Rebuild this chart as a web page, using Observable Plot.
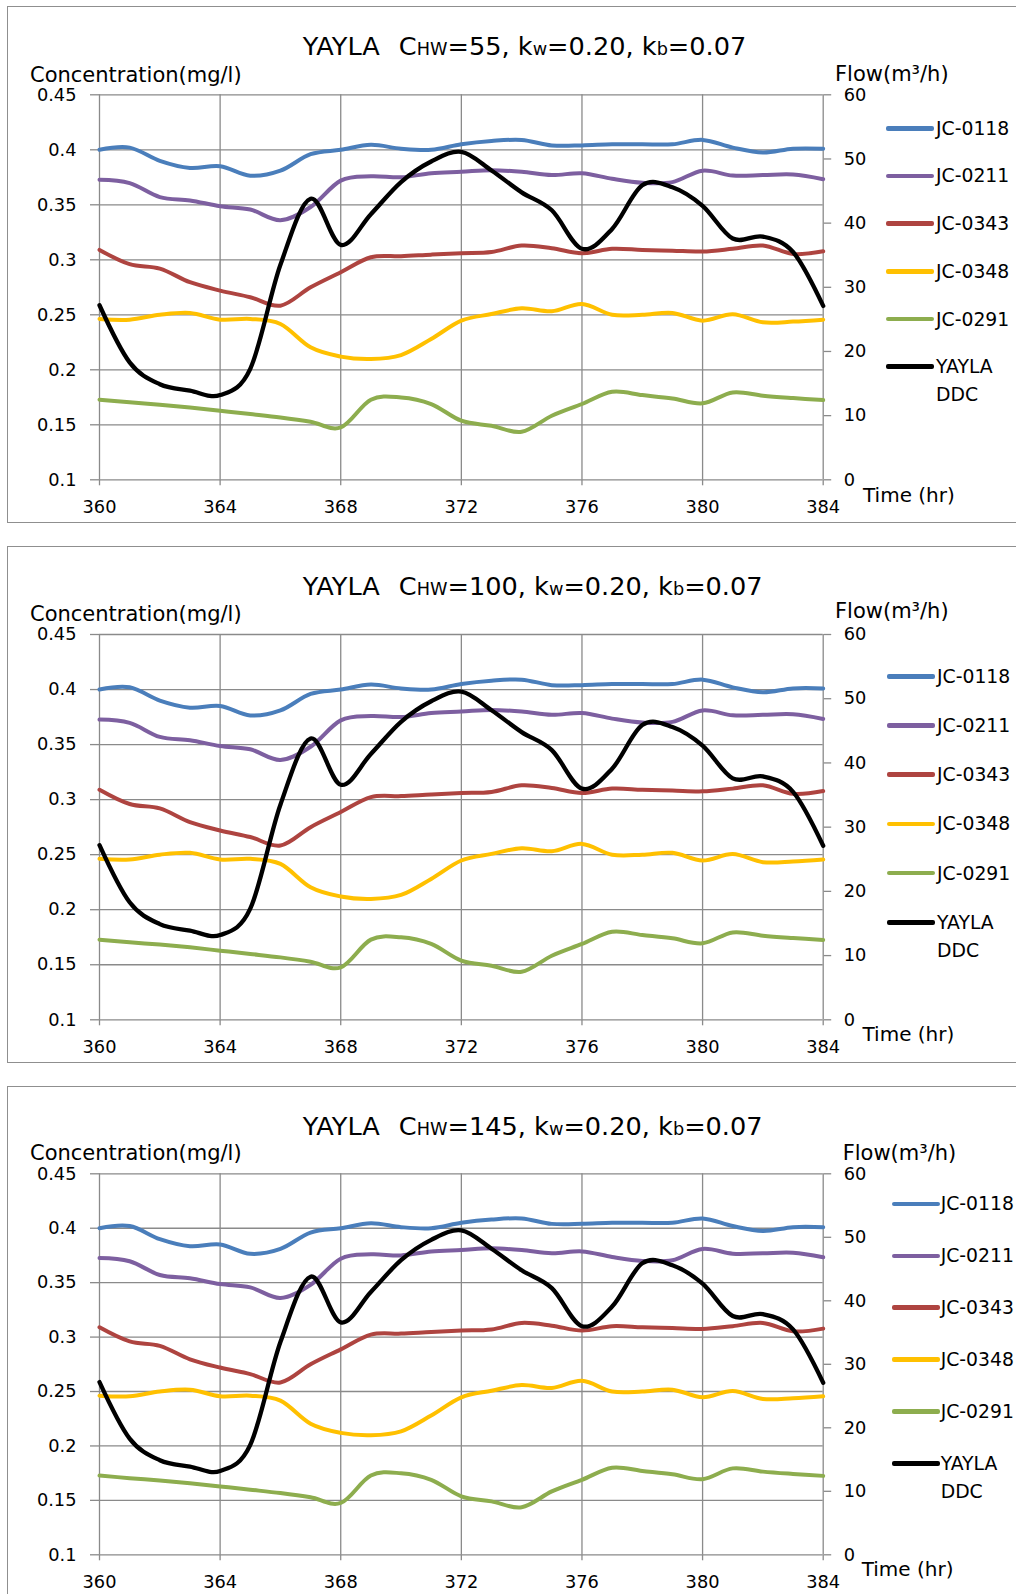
<!DOCTYPE html>
<html><head><meta charset="utf-8">
<script src="https://cdn.jsdelivr.net/npm/d3@7"></script>
<script src="https://cdn.jsdelivr.net/npm/@observablehq/plot@0.6"></script>
<style>
html,body{margin:0;padding:0;background:#fff;}
#page{position:relative;width:1016px;height:1594px;overflow:hidden;font-family:"DejaVu Sans",sans-serif;color:#000;}
.panel{position:absolute;left:0;width:1016px;height:520px;}
.border{position:absolute;left:7.3px;top:0;width:1030px;height:517.3px;border:1.5px solid #8f8f8f;box-sizing:border-box;}
.txt{position:absolute;white-space:nowrap;color:#000;}
.sw{position:absolute;width:48px;height:4.7px;border-radius:2px;}
svg{position:absolute;left:0;top:0;}
</style></head><body><div id="page"></div>
<script>
// ---- data ----
const hours = [360,361,362,363,364,365,366,367,368,369,370,371,372,373,374,375,376,377,378,379,380,381,382,383,384];
const jc0118 = [0.400,0.402,0.390,0.3835,0.385,0.3765,0.381,0.396,0.400,0.4045,0.401,0.400,0.405,0.408,0.409,0.404,0.404,0.405,0.405,0.405,0.409,0.402,0.3975,0.401,0.401];
const jc0211 = [0.3727,0.3697,0.357,0.354,0.3487,0.3457,0.336,0.348,0.372,0.376,0.375,0.3787,0.380,0.3815,0.380,0.377,0.3787,0.3736,0.370,0.3706,0.381,0.3766,0.377,0.3775,0.3733];
const jc0343 = [0.309,0.296,0.292,0.2796,0.272,0.266,0.2583,0.275,0.2887,0.3023,0.3032,0.3047,0.306,0.307,0.313,0.3105,0.306,0.310,0.309,0.3083,0.3075,0.310,0.313,0.3053,0.3078];
const jc0348 = [0.2462,0.2456,0.250,0.2517,0.2456,0.2462,0.2416,0.2204,0.212,0.2098,0.2134,0.228,0.2447,0.2507,0.2559,0.2532,0.2598,0.250,0.250,0.2517,0.2447,0.2505,0.2432,0.2438,0.2456];
const jc0291 = [0.1728,0.1704,0.1683,0.1658,0.1628,0.1598,0.1567,0.1528,0.1476,0.1728,0.1749,0.1689,0.1537,0.1491,0.1437,0.1582,0.1689,0.180,0.177,0.174,0.1695,0.1794,0.1764,0.1743,0.1725];
const yaylaDDC = [27.2,18.3,14.9,13.9,13.2,17.3,33.5,43.8,36.6,41.4,46.4,49.6,51.1,48.2,44.8,42.0,36.0,39.1,45.9,45.6,42.7,37.6,37.9,35.5,27.1];

const seriesNames = ["JC-0118","JC-0211","JC-0343","JC-0348","JC-0291","YAYLA DDC"];
const seriesColors = ["#4A7EBB","#7D5FA0","#AE4440","#FFC000","#8DAD4E","#000000"];
const concSeries = [jc0118, jc0211, jc0343, jc0348, jc0291];

const xTicks = [360,364,368,372,376,380,384];
const yTicks = [0.1,0.15,0.2,0.25,0.3,0.35,0.4,0.45];
const yTickLabels = ["0.1","0.15","0.2","0.25","0.3","0.35","0.4","0.45"];
const flowTicks = [0,10,20,30,40,50,60];
const flowTickLabels = ["0","10","20","30","40","50","60"];

const chwValues = ["55","100","145"];
const kwValue = "0.20", kbValue = "0.07";

// ---- layout per panel ----
const panels = [
  {T:6,    top:88.3, bottom:473.3, concB:76.4, flowX:835,   flowB:76.0, timeX:863,   timeB:495.7, legLineX:886,   legTextX:936,   legY0:122.3, legDY:47.7},
  {T:546,  top:88.0, bottom:473.3, concB:75.6, flowX:835,   flowB:73.0, timeX:862.5, timeB:495.3, legLineX:887,   legTextX:937,   legY0:130.3, legDY:49.2},
  {T:1086, top:87.3, bottom:468.3, concB:74.6, flowX:842.7, flowB:74.8, timeX:861.7, timeB:490.0, legLineX:891.7, legTextX:940.7, legY0:118.0, legDY:51.9}
];
const H = 520;
const f2c = f => 0.1 + f / 60 * 0.35;   // secondary (flow) axis -> primary scale
const GRID = "#8a8a8a";

function topFor(baseline, F, L){ return baseline - ((L - 1.164*F)/2 + 0.928*F); }
function addText(parent, html, x, baseline, F, L, extra){
  const d = document.createElement("div");
  d.className = "txt";
  d.innerHTML = html;
  d.style.left = x + "px";
  d.style.top = topFor(baseline, F, L) + "px";
  d.style.fontSize = F + "px";
  d.style.lineHeight = L + "px";
  if (extra) Object.assign(d.style, extra);
  parent.appendChild(d);
  return d;
}

const page = document.getElementById("page");

panels.forEach((p, pi) => {
  const panel = document.createElement("div");
  panel.className = "panel";
  panel.style.top = p.T + "px";
  page.appendChild(panel);
  const b = document.createElement("div"); b.className = "border"; panel.appendChild(b);

  const marks = [
    Plot.gridX(xTicks, {stroke: GRID, strokeOpacity: 1, strokeWidth: 1.3}),
    Plot.gridY(yTicks, {stroke: GRID, strokeOpacity: 1, strokeWidth: 1.3}),
    Plot.axisX(xTicks, {tickSize: 6, tickPadding: 15, stroke: GRID, strokeWidth: 1.3, fill: "#000", fontSize: 17.8, tickFormat: d => String(d), label: null}),
    Plot.axisY(yTicks, {anchor: "left", tickSize: 9, tickPadding: 14, stroke: GRID, strokeWidth: 1.3, fill: "#000", fontSize: 17.8, tickFormat: d => yTickLabels[yTicks.indexOf(d)], label: null}),
    Plot.axisY(flowTicks.map(f2c), {anchor: "right", tickSize: 7.5, tickPadding: 13, stroke: GRID, strokeWidth: 1.3, fill: "#000", fontSize: 17.8, tickFormat: d => flowTickLabels[flowTicks.map(f2c).indexOf(d)], label: null})
  ];
  concSeries.forEach((vals, si) => {
    marks.push(Plot.line(vals, {x: hours, y: vals, curve: "cardinal", stroke: seriesColors[si], strokeWidth: 4, strokeLinejoin: "round", strokeLinecap: "round"}));
  });
  marks.push(Plot.line(yaylaDDC, {x: hours, y: yaylaDDC.map(f2c), curve: "cardinal", stroke: seriesColors[5], strokeWidth: 4.3, strokeLinejoin: "round", strokeLinecap: "round"}));

  const chart = Plot.plot({
    width: 1016, height: H,
    marginLeft: 99, marginRight: 1016 - 822.7, marginTop: p.top, marginBottom: H - p.bottom,
    x: {domain: [360, 384]},
    y: {domain: [0.1, 0.45]},
    style: {fontFamily: "DejaVu Sans", fontSize: "17.8px", color: "#000", background: "transparent", overflow: "visible"},
    marks
  });
  panel.appendChild(chart);

  // title
  const small = 'style="font-size:17.7px"';
  addText(panel, `YAYLA<span style="margin-left:19px">C</span><span ${small}>HW</span>=${chwValues[pi]}, k<span ${small}>w</span>=${kwValue}, k<span ${small}>b</span>=${kbValue}`, 302.7, 50, 25.6, 25.6);
  // axis titles
  addText(panel, "Concentration(mg/l)", 30, p.concB, 21, 21);
  addText(panel, "Flow(m³/h)", p.flowX, p.flowB, 21, 21);
  addText(panel, "Time (hr)", p.timeX, p.timeB, 20, 20);
  // legend
  seriesNames.forEach((name, si) => {
    const cy = p.legY0 + si * p.legDY;
    const sw = document.createElement("div");
    sw.className = "sw";
    sw.style.left = p.legLineX + "px";
    sw.style.top = (cy - 2.35) + "px";
    sw.style.background = seriesColors[si];
    panel.appendChild(sw);
    const F = 18.8, L = 27.7;
    const html = name === "YAYLA DDC" ? "YAYLA<br>DDC" : name;
    addText(panel, html, p.legTextX, cy + 0.3645 * F, F, L);
  });
});
</script></body></html>
